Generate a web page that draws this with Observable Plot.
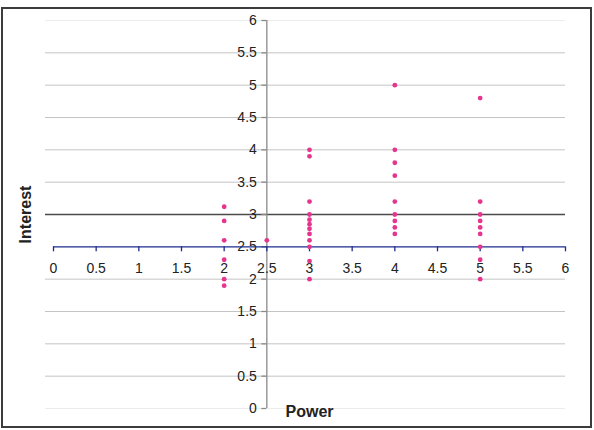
<!DOCTYPE html>
<html><head><meta charset="utf-8">
<script src="https://cdn.jsdelivr.net/npm/d3@7"></script>
<script src="https://cdn.jsdelivr.net/npm/@observablehq/plot@0.6"></script>
<style>
body{margin:0;background:#fff}
#wrap{position:relative;width:594px;height:430px}
#border{position:absolute;left:1px;top:7px;width:587px;height:417px;border:2px solid #3c3c3c;pointer-events:none}
</style>
</head><body>
<div id="wrap"><div id="border"></div></div>
<script>
// Data
const power    = [2,2,2,2,2,2, 2.5, 3,3,3,3,3,3,3,3,3,3,3,3, 4,4,4,4,4,4,4,4,4, 5,5,5,5,5,5,5,5,5];
const interest = [3.12,2.9,2.6,2.3,2.0,1.9, 2.6, 4.0,3.9,3.2,3.0,2.92,2.85,2.78,2.7,2.6,2.5,2.28,2.0, 5.0,4.0,3.8,3.6,3.2,3.0,2.9,2.8,2.7, 4.8,3.2,3.0,2.9,2.8,2.7,2.5,2.3,2.0];
const xTicks = [0,0.5,1,1.5,2,2.5,3,3.5,4,4.5,5,5.5,6];
const yTicks = [0,0.5,1,1.5,2,2.5,3,3.5,4,4.5,5,5.5,6];
const xAxisAtY = 2.5;   // horizontal axis crosses at Interest = 2.5
const yAxisAtX = 2.5;   // vertical axis crosses at Power = 2.5
const refLineY = 3;
const xTitle = "Power", yTitle = "Interest";
const xTitleAt = 3;

const points = power.map((p, i) => ({power: p, interest: interest[i]}));
const innerGrid = yTicks.filter(t => t !== 0 && t !== 6 && t !== refLineY && t !== xAxisAtY);
const edgeGrid = yTicks.filter(t => t === 0 || t === 6);
const font = "'Liberation Sans', Arial, sans-serif";

const chart = Plot.plot({
  width: 594, height: 430,
  marginLeft: 53, marginRight: 29, marginTop: 20, marginBottom: 22,
  style: {fontFamily: font, background: "transparent", overflow: "visible"},
  x: {domain: [xTicks[0], xTicks[xTicks.length-1]], axis: null},
  y: {domain: [yTicks[0], yTicks[yTicks.length-1]], axis: null},
  marks: [
    Plot.ruleY(innerGrid, {y: d => d, stroke: "#c4c4c4", strokeWidth: 1, insetLeft: -8}),
    Plot.ruleY(edgeGrid, {y: d => d, stroke: "#ececec", strokeWidth: 1, insetLeft: -8}),
    Plot.ruleY([refLineY], {y: d => d, stroke: "#4a4a4a", strokeWidth: 1.3, insetLeft: -8}),
    // vertical axis
    Plot.ruleX([yAxisAtX], {x: d => d, y1: yTicks[0], y2: yTicks[yTicks.length-1], stroke: "#8a8a8a", strokeWidth: 1.3}),
    Plot.ruleY(yTicks, {y: d => d, x1: yAxisAtX, x2: yAxisAtX, insetLeft: -5, stroke: "#8a8a8a", strokeWidth: 1.3}),
    Plot.text(yTicks, {x: yAxisAtX, y: d => d, text: d => String(d), textAnchor: "end", dx: -10, fontSize: 14, fill: "#222"}),
    // horizontal axis
    Plot.ruleY([xAxisAtY], {y: d => d, x1: xTicks[0], x2: xTicks[xTicks.length-1], stroke: "#1c2c8e", strokeWidth: 1.3}),
    Plot.ruleX(xTicks, {x: d => d, y1: xAxisAtY, y2: xAxisAtY, insetTop: 0, insetBottom: -5, stroke: "#1c2c8e", strokeWidth: 1.3}),
    Plot.text(xTicks, {x: d => d, y: xAxisAtY, text: d => String(d), dy: 22, fontSize: 14, fill: "#222"}),
    // points
    Plot.dot(points, {x: "power", y: "interest", r: 2.4, fill: "#e5358e", stroke: "none"}),
    // titles
    Plot.text([yTitle], {frameAnchor: "left", rotate: -90, dx: -28, textAnchor: "middle", text: d => d, fontSize: 16, fontWeight: "bold", fill: "#222"}),
    Plot.text([xTitle], {x: xTitleAt, frameAnchor: "bottom", dy: 8, textAnchor: "middle", text: d => d, fontSize: 16, fontWeight: "bold", fill: "#222"})
  ]
});
document.getElementById("wrap").prepend(chart);
</script>
</body></html>
